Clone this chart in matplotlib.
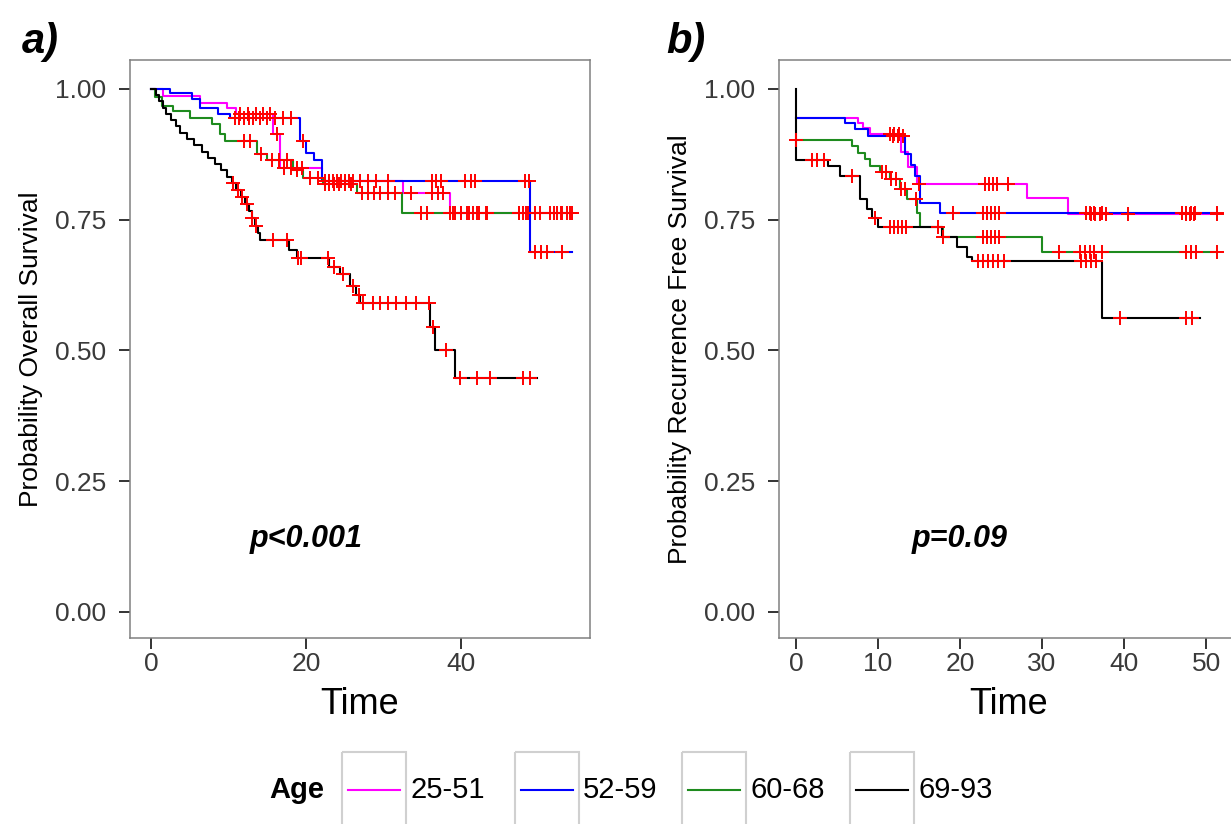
"""Kaplan-Meier curves by age group: a) overall survival, b) recurrence free survival -> out.png."""

import matplotlib

matplotlib.use("Agg")
import matplotlib.pyplot as plt
import numpy as np
from matplotlib.patches import Rectangle

plt.rcParams["font.family"] = ["Liberation Sans", "DejaVu Sans"]

W, H = 1231, 824

GROUPS = ["25-51", "52-59", "60-68", "69-93"]
COLORS = ["#FF00FF", "#0000FF", "#1E8B1E", "#000000"]

# ---- panel a: overall survival (step times, survival after step, last follow-up, censor times)
os_mag_t = [0, 1.6, 6.3, 9.8, 11.0, 15.7, 16.7, 22.0, 32.5, 38.6]
os_mag_s = [1.0, 0.987, 0.973, 0.964, 0.952, 0.914, 0.849, 0.824, 0.80, 0.763]
os_mag_end = 54.3
os_mag_cens = [11.5, 12.5, 13.5, 14.5, 15.3, 16.2, 17.2, 18.0, 18.8, 19.5, 33.5, 36.2, 37.0, 37.6,
               39.0, 40.0, 41.0, 42.0, 43.2, 47.5, 48.3, 49.5, 50.2, 52.0, 52.8, 53.6, 54.3]

os_blu_t = [0, 2.5, 5.3, 6.3, 8.6, 10.2, 19.2, 20.0, 21.0, 22.0, 48.9]
os_blu_s = [1.0, 0.992, 0.98, 0.964, 0.952, 0.945, 0.90, 0.878, 0.863, 0.824, 0.687]
os_blu_end = 54.3
os_blu_cens = [10.8, 11.4, 12.0, 12.6, 13.2, 14.0, 15.0, 16.0, 17.0, 18.0, 19.6, 22.5, 23.0, 23.5,
               24.0, 24.5, 25.0, 25.5, 26.0, 27.0, 28.0, 29.0, 30.5, 36.2, 36.8, 37.4, 40.5, 41.2,
               41.8, 48.2, 48.7, 49.5, 50.3, 51.0, 53.0]

os_grn_t = [0, 0.5, 1.4, 2.8, 5.0, 7.9, 8.9, 9.5, 13.7, 15.0, 18.3, 19.6, 22.2, 26.6, 32.4]
os_grn_s = [1.0, 0.985, 0.968, 0.958, 0.945, 0.933, 0.914, 0.90, 0.876, 0.863, 0.844, 0.83,
            0.818, 0.80, 0.763]
os_grn_end = 54.3
os_grn_cens = [12.0, 12.8, 14.2, 15.6, 16.5, 17.5, 18.8, 20.5, 21.5, 22.5, 23.0, 23.6, 24.2, 25.0,
               25.8, 27.2, 28.0, 28.8, 29.5, 30.5, 31.5, 34.8, 35.6, 38.5, 39.2, 40.0, 40.8, 41.5,
               42.3, 43.3, 47.5, 48.0, 48.6, 51.5, 52.3, 53.0, 54.0]

os_blk_t = [0, 0.6, 1.0, 1.5, 2.0, 2.6, 3.2, 3.8, 4.6, 5.6, 6.6, 7.4, 8.2, 9.0, 9.8, 10.4, 11.0,
            11.6, 12.1, 12.6, 13.0, 13.4, 13.8, 14.1, 17.8, 18.8, 23.0, 24.4, 25.6, 26.4, 27.0,
            36.0, 36.6, 39.2]
os_blk_s = [1.0, 0.988, 0.976, 0.964, 0.952, 0.94, 0.928, 0.916, 0.904, 0.892, 0.88, 0.868, 0.856,
            0.844, 0.832, 0.82, 0.807, 0.794, 0.78, 0.766, 0.752, 0.738, 0.724, 0.71, 0.692, 0.676,
            0.66, 0.646, 0.622, 0.606, 0.59, 0.545, 0.50, 0.447]
os_blk_end = 49.8
os_blk_cens = [10.6, 11.2, 11.8, 12.4, 13.0, 13.6, 15.7, 17.5, 18.9, 19.3, 22.8, 23.6, 24.8, 26.0,
               26.8, 27.4, 28.6, 29.5, 30.5, 31.6, 32.9, 34.2, 35.9, 36.3, 38.0, 39.9, 42.0, 43.7,
               48.0, 48.9]

# ---- panel b: recurrence free survival
rfs_mag_t = [0, 7.6, 8.2, 9.0, 12.8, 13.6, 14.7, 28.2, 33.2]
rfs_mag_s = [0.944, 0.935, 0.925, 0.914, 0.88, 0.85, 0.818, 0.792, 0.761]
rfs_mag_end = 51.3
rfs_mag_cens = [11.4, 12.0, 12.6, 15.0, 23.0, 23.5, 24.0, 24.5, 25.9, 36.0, 36.5, 37.0, 37.8, 40.5,
                47.5, 48.0, 48.5, 51.3]

rfs_blu_t = [0, 6.0, 7.2, 8.8, 13.3, 14.0, 14.5, 15.1, 17.6]
rfs_blu_s = [0.944, 0.935, 0.923, 0.91, 0.876, 0.855, 0.834, 0.782, 0.763]
rfs_blu_end = 51.3
rfs_blu_cens = [11.8, 12.4, 13.0, 19.1, 22.8, 23.3, 23.8, 24.3, 24.8, 35.3, 35.8, 36.3, 37.3, 47.1,
                47.6, 48.1, 48.6, 51.3]

rfs_grn_t = [0, 6.8, 7.6, 8.4, 9.0, 10.2, 11.5, 12.7, 13.5, 14.7, 15.1, 17.9, 30.0]
rfs_grn_s = [0.903, 0.891, 0.878, 0.866, 0.853, 0.84, 0.828, 0.809, 0.79, 0.763, 0.735, 0.717,
             0.687]
rfs_grn_end = 51.3
rfs_grn_cens = [0.0, 10.5, 11.0, 11.6, 12.2, 12.8, 13.3, 14.6, 17.9, 22.8, 23.3, 23.8, 24.3, 24.8,
                32.0, 34.6, 35.2, 35.8, 36.3, 37.3, 47.5, 48.1, 48.7, 51.3]

rfs_blk_t = [0, 0, 3.9, 5.4, 7.8, 8.6, 9.3, 10.0, 17.8, 19.6, 20.8, 21.5, 37.3]
rfs_blk_s = [1.0, 0.863, 0.853, 0.834, 0.79, 0.771, 0.752, 0.735, 0.716, 0.697, 0.678, 0.67, 0.561]
rfs_blk_end = 49.3
rfs_blk_cens = [2.0, 2.6, 3.4, 6.8, 9.6, 11.4, 11.9, 12.4, 12.9, 13.4, 17.3, 22.2, 22.8, 23.4,
                24.0, 24.6, 25.3, 34.8, 35.4, 36.0, 36.6, 39.5, 47.5, 48.3]

OS_CURVES = [(os_mag_t, os_mag_s, os_mag_end, os_mag_cens),
             (os_blu_t, os_blu_s, os_blu_end, os_blu_cens),
             (os_grn_t, os_grn_s, os_grn_end, os_grn_cens),
             (os_blk_t, os_blk_s, os_blk_end, os_blk_cens)]
RFS_CURVES = [(rfs_mag_t, rfs_mag_s, rfs_mag_end, rfs_mag_cens),
              (rfs_blu_t, rfs_blu_s, rfs_blu_end, rfs_blu_cens),
              (rfs_grn_t, rfs_grn_s, rfs_grn_end, rfs_grn_cens),
              (rfs_blk_t, rfs_blk_s, rfs_blk_end, rfs_blk_cens)]

Y_TICKS = [0.0, 0.25, 0.5, 0.75, 1.0]


def surv_at(times, surv, t):
    idx = np.searchsorted(times, t, side="right") - 1
    return np.asarray(surv)[idx]


def draw_panel(ax, curves, xlim, xticks, ylabel, ptext):
    for (t, s, t_end, _), color in zip(curves, COLORS):
        ax.step(np.append(t, t_end), np.append(s, s[-1]), where="post", color=color, lw=1.5,
                zorder=2)
    for t, s, _, cens in curves:
        ax.plot(cens, surv_at(t, s, cens), ls="none", marker="+", ms=10, mew=1.4, color="#FF0000",
                zorder=3)
    ax.set_xlim(*xlim)
    ax.set_ylim(-0.05, 1.055)
    ax.set_xticks(xticks)
    ax.set_yticks(Y_TICKS)
    ax.set_yticklabels([f"{v:.2f}" for v in Y_TICKS])
    for side in ("top", "right", "bottom", "left"):
        ax.spines[side].set_color("#808080")
        ax.spines[side].set_linewidth(1.1)
    ax.tick_params(direction="out", length=8, width=1.4, color="#333333", labelsize=19,
                   labelcolor="#3a3a3a")
    ax.tick_params(axis="y", pad=9)
    ax.tick_params(axis="x", pad=2)
    ax.set_xlabel("Time", fontsize=26)
    ax.set_ylabel(ylabel, fontsize=19)
    ax.yaxis.set_label_coords(-0.19, 0.5)
    ax.xaxis.set_label_coords(0.5, -0.085)
    ax.text(20, 0.14, ptext, fontsize=22, fontweight="bold", style="italic", ha="center",
            va="center")


fig = plt.figure(figsize=(W / 100, H / 100), dpi=100)

ax_a = fig.add_axes([130 / W, 186 / H, 460 / W, 578 / H])
draw_panel(ax_a, OS_CURVES, (-2.7, 56.6), [0, 20, 40], "Probability Overall Survival", "p<0.001")

ax_b = fig.add_axes([779 / W, 186 / H, 460 / W, 578 / H])
draw_panel(ax_b, RFS_CURVES, (-2.07, 54.0), [0, 10, 20, 30, 40, 50],
           "Probability Recurrence Free Survival", "p=0.09")

# overlay in pixel coordinates for panel tags and the legend strip
ov = fig.add_axes([0, 0, 1, 1])
ov.set_xlim(0, W)
ov.set_ylim(H, 0)
ov.set_axis_off()

ov.text(22, 42, "a)", fontsize=30, fontweight="bold", style="italic", ha="left", va="center")
ov.text(666, 42, "b)", fontsize=30, fontweight="bold", style="italic", ha="left", va="center")

ov.text(297, 790, "Age", fontsize=21, fontweight="bold", ha="center", va="center")
key_left = [342, 515, 682, 850]
for x0, color, label in zip(key_left, COLORS, GROUPS):
    ov.add_patch(Rectangle((x0, 752), 64, 76, fill=False, edgecolor="#d0d0d0", lw=1.5))
    ov.plot([x0 + 6, x0 + 58], [790, 790], color=color, lw=1.5)
    ov.text(x0 + 68, 790, label, fontsize=21, ha="left", va="center")

fig.savefig("out.png", dpi=100)
plt.close(fig)
